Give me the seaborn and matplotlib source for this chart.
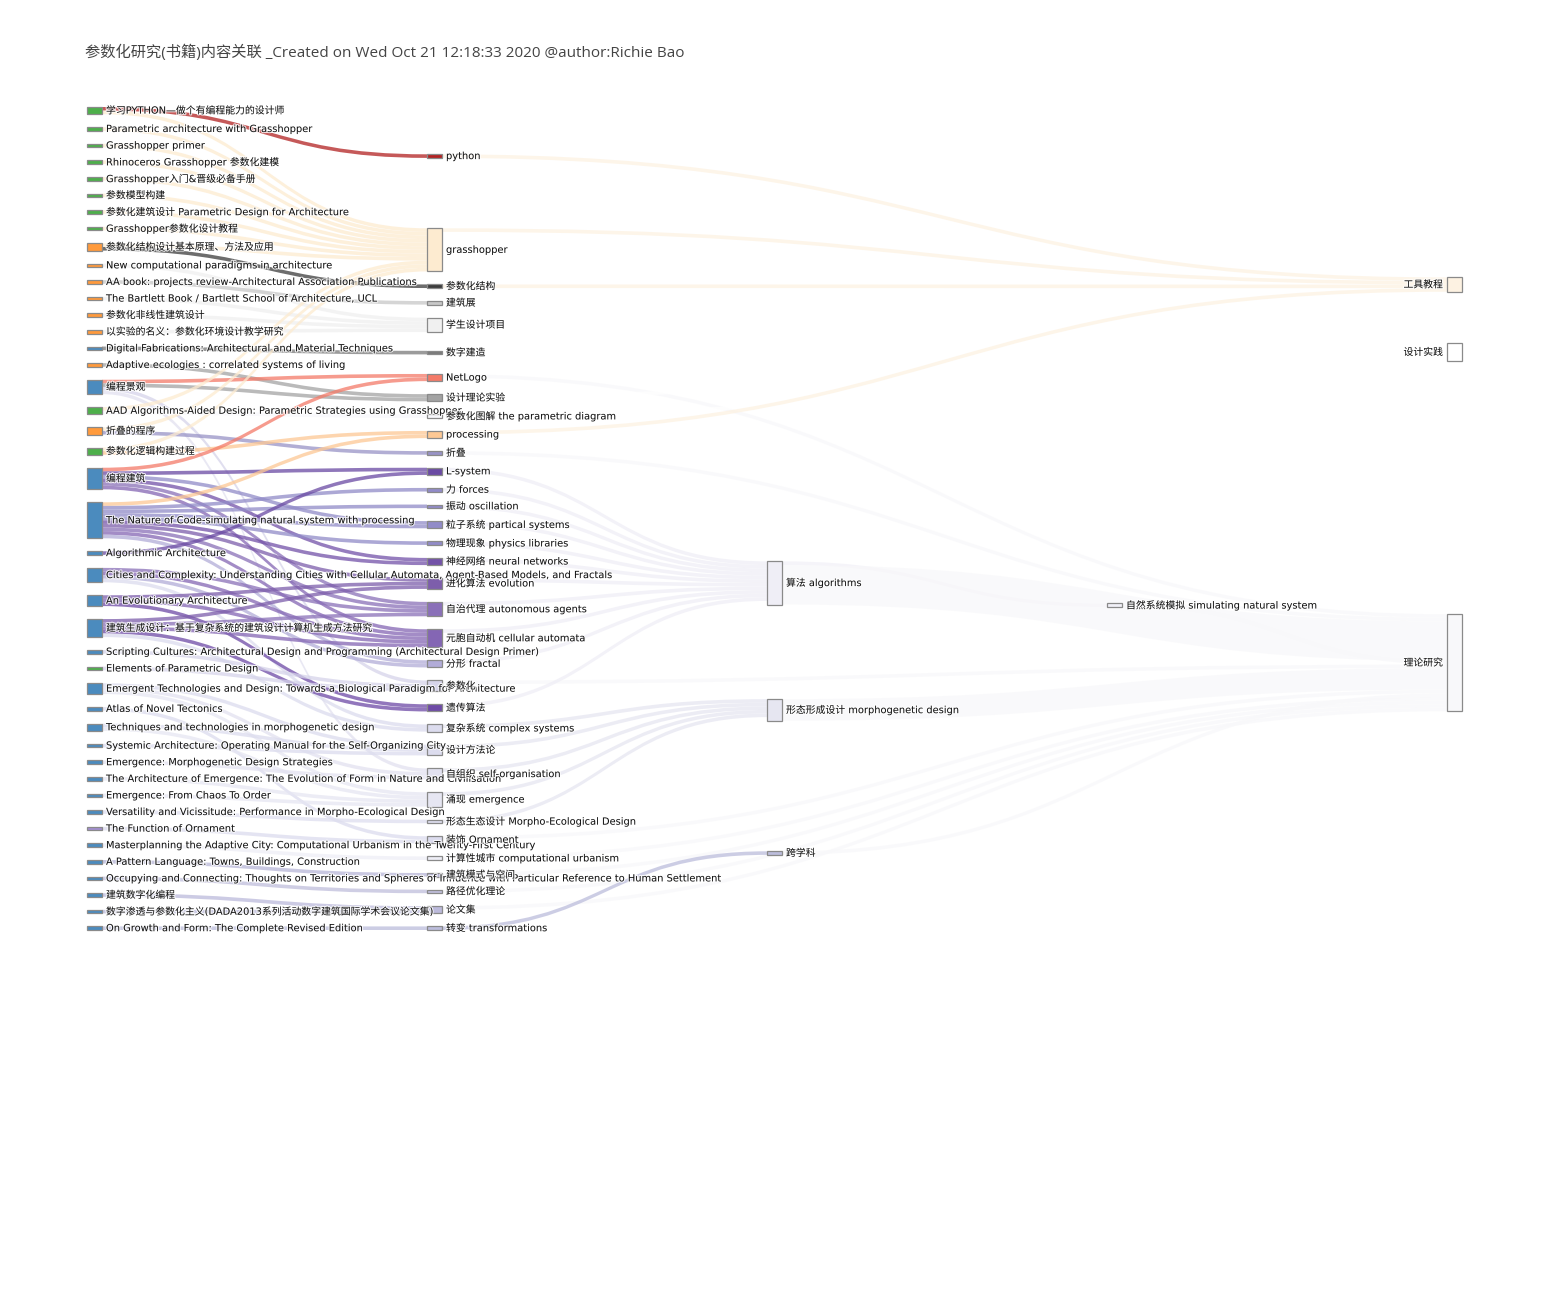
import matplotlib
matplotlib.use("Agg")
import matplotlib.pyplot as plt
import matplotlib.patheffects as pe
from matplotlib.patches import PathPatch, Rectangle
from matplotlib.path import Path
import seaborn as sns

sns.set_theme(style="white")
plt.rcParams['font.family'] = ['DejaVu Sans', 'Noto Sans CJK SC']

TITLE = "参数化研究(书籍)内容关联 _Created on Wed Oct 21 12:18:33 2020 @author:Richie Bao"

# ---- nodes -------------------------------------------------------------
books = [
    "学习PYTHON—做个有编程能力的设计师",
    "Parametric architecture with Grasshopper",
    "Grasshopper primer",
    "Rhinoceros Grasshopper 参数化建模",
    "Grasshopper入门&晋级必备手册",
    "参数模型构建",
    "参数化建筑设计 Parametric Design for Architecture",
    "Grasshopper参数化设计教程",
    "参数化结构设计基本原理、方法及应用",
    "New computational paradigms in architecture",
    "AA book: projects review-Architectural Association Publications",
    "The Bartlett Book / Bartlett School of Architecture, UCL",
    "参数化非线性建筑设计",
    "以实验的名义：参数化环境设计教学研究",
    "Digital Fabrications: Architectural and Material Techniques",
    "Adaptive ecologies : correlated systems of living",
    "编程景观",
    "AAD Algorithms-Aided Design: Parametric Strategies using Grasshopper",
    "折叠的程序",
    "参数化逻辑构建过程",
    "编程建筑",
    "The Nature of Code-simulating natural system with processing",
    "Algorithmic Architecture",
    "Cities and Complexity: Understanding Cities with Cellular Automata, Agent-Based Models, and Fractals",
    "An Evolutionary Architecture",
    "建筑生成设计：基于复杂系统的建筑设计计算机生成方法研究",
    "Scripting Cultures: Architectural Design and Programming (Architectural Design Primer)",
    "Elements of Parametric Design",
    "Emergent Technologies and Design: Towards a Biological Paradigm for Architecture",
    "Atlas of Novel Tectonics",
    "Techniques and technologies in morphogenetic design",
    "Systemic Architecture: Operating Manual for the Self-Organizing City",
    "Emergence: Morphogenetic Design Strategies",
    "The Architecture of Emergence: The Evolution of Form in Nature and Civilisation",
    "Emergence: From Chaos To Order",
    "Versatility and Vicissitude: Performance in Morpho-Ecological Design",
    "The Function of Ornament",
    "Masterplanning the Adaptive City: Computational Urbanism in the Twenty-First Century",
    "A Pattern Language: Towns, Buildings, Construction",
    "Occupying and Connecting: Thoughts on Territories and Spheres of Influence with Particular Reference to Human Settlement",
    "建筑数字化编程",
    "数字渗透与参数化主义(DADA2013系列活动数字建筑国际学术会议论文集)",
    "On Growth and Form: The Complete Revised Edition",
]

ALG = "算法 algorithms"
MOR = "形态形成设计 morphogenetic design"
CROSS = "跨学科"
NAT = "自然系统模拟 simulating natural system"

keywords = [
    "python", "grasshopper", "参数化结构", "建筑展", "学生设计项目", "数字建造",
    "NetLogo", "设计理论实验", "参数化图解 the parametric diagram", "processing",
    "折叠", "L-system", "力 forces", "振动 oscillation", "粒子系统 partical systems",
    "物理现象 physics libraries", "神经网络 neural networks", "进化算法 evolution",
    "自治代理 autonomous agents", "元胞自动机 cellular automata", "分形 fractal",
    "参数化", "遗传算法", "复杂系统 complex systems", "设计方法论",
    "自组织 self-organisation", "涌现 emergence",
    "形态生态设计 Morpho-Ecological Design", "装饰 Ornament",
    "计算性城市 computational urbanism", "建筑模式与空间", "路径优化理论",
    "论文集", "转变 transformations",
]
themes = [ALG, MOR, CROSS]
subthemes = [NAT]
categories = ["工具教程", "设计实践", "理论研究"]

# ---- links -------------------------------------------------------------
# keywords of every book (a repeated keyword counts twice)
book_topics = [
    ["python", "grasshopper"],
    ["grasshopper"], ["grasshopper"], ["grasshopper"], ["grasshopper"],
    ["grasshopper"], ["grasshopper"], ["grasshopper"],
    ["参数化结构", "grasshopper"],
    ["学生设计项目"], ["建筑展"], ["学生设计项目"], ["学生设计项目"], ["学生设计项目"],
    ["数字建造"],
    ["设计理论实验"],
    ["NetLogo", "设计理论实验", "参数化", "自组织 self-organisation"],
    ["grasshopper", "参数化图解 the parametric diagram"],
    ["折叠", "grasshopper"],
    ["grasshopper", "processing"],
    ["NetLogo", "L-system", "粒子系统 partical systems", "神经网络 neural networks",
     "自治代理 autonomous agents", "元胞自动机 cellular automata"],
    ["processing", "力 forces", "振动 oscillation", "粒子系统 partical systems",
     "物理现象 physics libraries", "神经网络 neural networks", "进化算法 evolution",
     "自治代理 autonomous agents", "元胞自动机 cellular automata", "分形 fractal"],
    ["L-system"],
    ["自治代理 autonomous agents", "元胞自动机 cellular automata", "分形 fractal",
     "复杂系统 complex systems"],
    ["进化算法 evolution", "遗传算法", "元胞自动机 cellular automata"],
    ["进化算法 evolution", "自治代理 autonomous agents", "元胞自动机 cellular automata",
     "遗传算法", "复杂系统 complex systems"],
    ["参数化"],
    ["参数化"],
    ["设计方法论", "自组织 self-organisation", "涌现 emergence"],
    ["装饰 Ornament"],
    ["设计方法论", "涌现 emergence"],
    ["设计方法论"],
    ["自组织 self-organisation"], ["涌现 emergence"], ["涌现 emergence"],
    ["形态生态设计 Morpho-Ecological Design"],
    ["装饰 Ornament"],
    ["计算性城市 computational urbanism"],
    ["建筑模式与空间"],
    ["路径优化理论"],
    ["论文集"], ["论文集"],
    ["转变 transformations"],
]

# where every keyword flows next
keyword_next = [
    "工具教程", "工具教程", "工具教程", "设计实践", "设计实践", "设计实践",
    "理论研究", "设计实践", "设计实践", "工具教程",
    "理论研究", ALG, ALG, ALG, ALG, ALG, ALG, ALG, ALG, ALG, ALG,
    "理论研究", ALG, MOR, MOR, MOR, MOR, MOR, "理论研究",
    "理论研究", "理论研究", "理论研究", "理论研究", CROSS,
]

theme_source = [ALG, ALG, MOR, CROSS, NAT]
theme_target = [NAT, "理论研究", "理论研究", "理论研究", "理论研究"]
theme_value = [1, 11, 6, 1, 1]

# ---- styles ------------------------------------------------------------
GREEN, ORANGE, BLUE, PURPLE = "#4daf4a", "#ff9a3c", "#4b8bbe", "#a48fd2"
book_colors = ([GREEN] * 8 + [ORANGE] * 6 + [BLUE, ORANGE, BLUE, GREEN, ORANGE, GREEN]
               + [BLUE] * 7 + [GREEN] + [BLUE] * 8 + [PURPLE] + [BLUE] * 6)
keyword_colors = [
    "#b22222", "#fdebd0", "#3c3c3c", "#c8c8c8", "#f0f0f0", "#7a7a7a",
    "#f47a68", "#a3a3a3", "#f7f7fb", "#fdc894",
    "#9893c6", "#6a4aa3", "#918bc8", "#918bc8", "#918bc8",
    "#918bc8", "#7352a8", "#7d5eab", "#8a70b8", "#8466b4", "#b2acd8",
    "#d6d4ea", "#6e4aa6", "#dcdcee", "#dcdcee", "#e2e1f0", "#e6e6f2",
    "#dedeef", "#dcdcee", "#eeeef6", "#b8b6d8", "#c0bedc", "#bcbadb", "#bcbddc",
]
theme_colors = ["#efeef6", "#e6e6f1", "#bcbddc"]
subtheme_colors = ["#f2f1f8"]
category_colors = ["#fdf2e2", "#ffffff", "#f8f8fa"]

X0, X1, TOP, BOTTOM = 87, 1462, 107, 930
THICK, PAD, ITER = 15, 13, 50
LINK_ALPHA = 0.75

# ---- assemble graph ----------------------------------------------------
nodes = books + keywords + themes + subthemes + categories
colors = book_colors + keyword_colors + theme_colors + subtheme_colors + category_colors
idx = {n: i for i, n in enumerate(nodes)}

flows = {}
for b, topics in zip(books, book_topics):
    for k in topics:
        flows[(idx[b], idx[k])] = flows.get((idx[b], idx[k]), 0) + 1
for k, nxt in zip(keywords, keyword_next):
    flows[(idx[k], idx[nxt])] = flows.get((idx[k], idx[nxt]), 0) + 1
for s, t, v in zip(theme_source, theme_target, theme_value):
    flows[(idx[s], idx[t])] = flows.get((idx[s], idx[t]), 0) + v
links = [(s, t, v) for (s, t), v in flows.items()]

N = len(nodes)
inv, outv = [0] * N, [0] * N
for s, t, v in links:
    outv[s] += v
    inv[t] += v
value = [max(a, b) for a, b in zip(inv, outv)]

# depth = longest path from a source, sinks pushed to the last column
depth = [0] * N
for _ in range(N):
    for s, t, v in links:
        depth[t] = max(depth[t], depth[s] + 1)
maxd = max(depth)
depth = [maxd if outv[n] == 0 else depth[n] for n in range(N)]
cols = [[n for n in range(N) if depth[n] == d] for d in range(maxd + 1)]

H = BOTTOM - TOP
ky = min((H - (len(c) - 1) * PAD) / sum(value[n] for n in c) for c in cols)
h = [v * ky for v in value]
x = [X0 + depth[n] * (X1 - X0 - THICK) / maxd for n in range(N)]
y = [0.0] * N
for c in cols:
    for i, n in enumerate(c):
        y[n] = TOP + i


def center(n):
    return y[n] + h[n] / 2


def resolve():
    for c in cols:
        yy = TOP
        for n in c:
            if yy > y[n]:
                y[n] = yy
            yy = y[n] + h[n] + PAD
        over = yy - PAD - BOTTOM
        if over > 0:
            y[c[-1]] -= over
            yy = y[c[-1]]
            for n in reversed(c[:-1]):
                d = y[n] + h[n] + PAD - yy
                if d > 0:
                    y[n] -= d
                yy = y[n]


resolve()
alpha = 1.0
for _ in range(ITER):
    alpha *= 0.99
    for c in reversed(cols):
        for n in c:
            out = [(t, v) for s, t, v in links if s == n]
            if out:
                m = sum(center(t) * v for t, v in out) / sum(v for t, v in out)
                y[n] += (m - center(n)) * alpha
    resolve()
    for c in cols:
        for n in c:
            inc = [(s, v) for s, t, v in links if t == n]
            if inc:
                m = sum(center(s) * v for s, v in inc) / sum(v for s, v in inc)
                y[n] += (m - center(n)) * alpha
    resolve()

# link offsets within each node
src_off, tgt_off = {}, {}
for n in range(N):
    out = sorted([l for l in links if l[0] == n], key=lambda l: y[l[1]])
    acc = y[n]
    for l in out:
        src_off[l] = acc
        acc += l[2] * ky
    inc = sorted([l for l in links if l[1] == n], key=lambda l: y[l[0]])
    acc = y[n]
    for l in inc:
        tgt_off[l] = acc
        acc += l[2] * ky

# ---- draw --------------------------------------------------------------
fig = plt.figure(figsize=(15.5, 13.06), dpi=100)
ax = fig.add_axes([0, 0, 1, 1])
ax.set_xlim(0, 1550)
ax.set_ylim(1306, 0)
ax.axis('off')

for l in links:
    s, t, v = l
    xa, xb = x[s] + THICK, x[t]
    xm = (xa + xb) / 2
    sy, ty, w = src_off[l], tgt_off[l], v * ky
    verts = [(xa, sy), (xm, sy), (xm, ty), (xb, ty), (xb, ty + w),
             (xm, ty + w), (xm, sy + w), (xa, sy + w), (xa, sy)]
    codes = [Path.MOVETO, Path.CURVE4, Path.CURVE4, Path.CURVE4, Path.LINETO,
             Path.CURVE4, Path.CURVE4, Path.CURVE4, Path.CLOSEPOLY]
    ax.add_patch(PathPatch(Path(verts, codes), facecolor=colors[t],
                           edgecolor='none', alpha=LINK_ALPHA))

halo = [pe.withStroke(linewidth=1.6, foreground='white', alpha=0.8)]
for n in range(N):
    ax.add_patch(Rectangle((x[n], y[n]), THICK, h[n], facecolor=colors[n],
                           edgecolor='#8a8a8a', linewidth=0.9))
    if depth[n] == maxd:
        ax.text(x[n] - 4, center(n), nodes[n], ha='right', va='center',
                fontsize=7.1, color='#111', path_effects=halo)
    else:
        ax.text(x[n] + THICK + 4, center(n), nodes[n], ha='left', va='center',
                fontsize=7.1, color='#111', path_effects=halo)

fig.text(85 / 1550, 1 - 53 / 1306, TITLE, ha='left', va='center',
         fontsize=11, color='#444444', family=['Open Sans', 'Noto Sans CJK SC'])

fig.savefig('out.png', dpi=100)
